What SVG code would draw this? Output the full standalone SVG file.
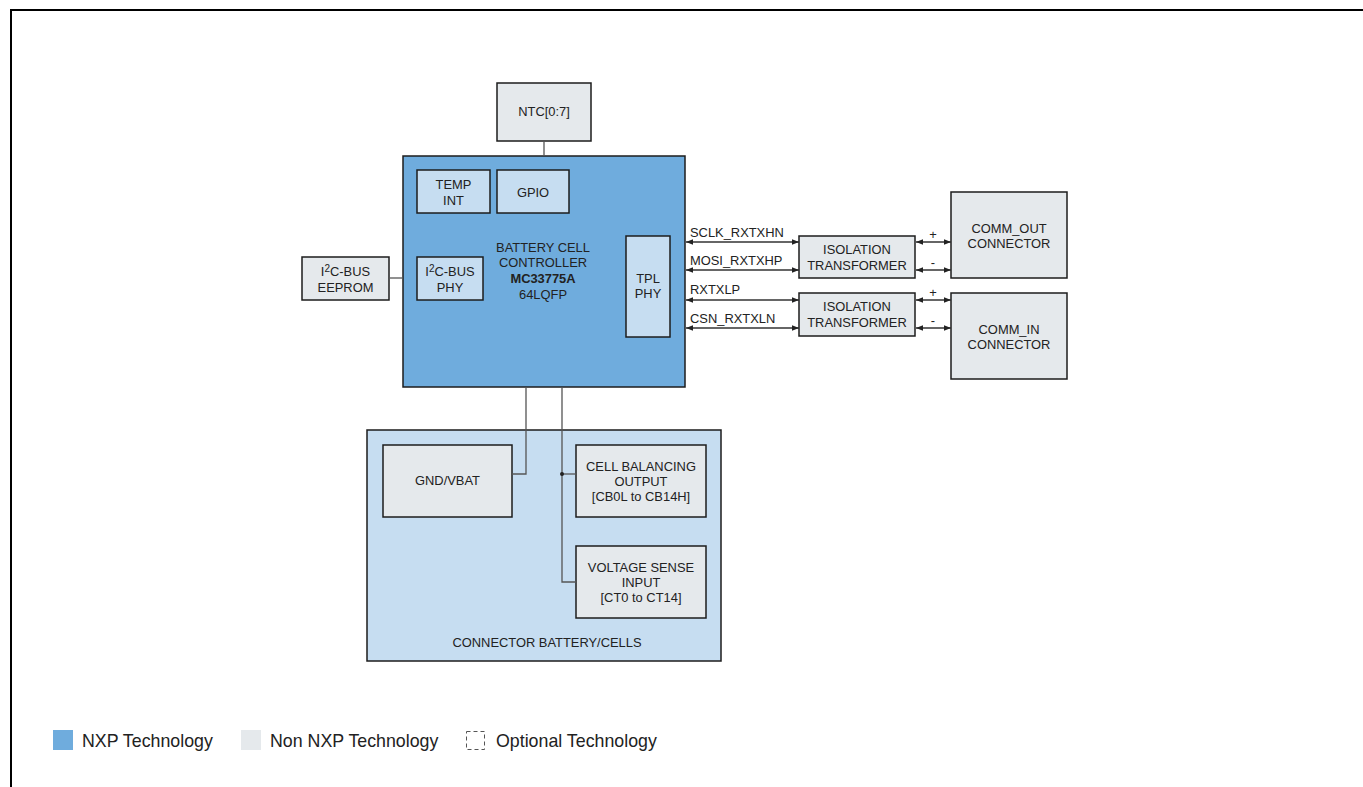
<svg xmlns="http://www.w3.org/2000/svg" width="1363" height="787" viewBox="0 0 1363 787">
<style>
text{font-family:"Liberation Sans",Arial,sans-serif;font-size:12.9px;fill:#222;text-anchor:middle}
.nxp{fill:#6FACDD;stroke:#1c1c1c;stroke-width:1.5}
.inner{fill:#C6DDF1;stroke:#1c1c1c;stroke-width:1.5}
.grey{fill:#E5E9EC;stroke:#1c1c1c;stroke-width:1.5}
.wire{stroke:#555;stroke-width:1.3;fill:none}
.arr{stroke:#333;stroke-width:1.3;fill:none;marker-start:url(#ah);marker-end:url(#ah)}
.lbl{text-anchor:start}
.leg{font-size:17.8px;text-anchor:start;fill:#222}
</style>
<defs>
<marker id="ah" viewBox="0 0 10 10" refX="10" refY="5" markerWidth="7" markerHeight="7" markerUnits="userSpaceOnUse" orient="auto-start-reverse">
<path d="M0,1 L10,5 L0,9 Z" fill="#222"/>
</marker>
</defs>
<rect x="0" y="0" width="1363" height="787" fill="#fff"/>
<path d="M11,787 V10 H1363" fill="none" stroke="#000" stroke-width="2"/>

<g id="ntc"><rect class="grey" x="497" y="83" width="94" height="58"/><text x="544" y="116">NTC[0:7]</text></g>

<g id="bcc">
<rect class="nxp" x="403" y="156" width="282" height="231"/>
<text x="543" y="252">BATTERY CELL</text>
<text x="543" y="267">CONTROLLER</text>
<text x="543" y="283" font-weight="bold" font-size="13.8px">MC33775A</text>
<text x="543" y="299">64LQFP</text>
</g>
<g id="tempint"><rect class="inner" x="417" y="170" width="73" height="43"/><text x="453.5" y="189">TEMP</text><text x="453.5" y="205">INT</text></g>
<g id="gpio"><rect class="inner" x="497" y="170" width="72" height="43"/><text x="533" y="197">GPIO</text></g>
<g id="i2cphy"><rect class="inner" x="417" y="257" width="66" height="43"/><text x="450" y="276">I<tspan dy="-4" font-size="10">2</tspan><tspan dy="4">C-BUS</tspan></text><text x="450" y="292">PHY</text></g>
<g id="tplphy"><rect class="inner" x="626" y="236" width="44" height="101"/><text x="648" y="283">TPL</text><text x="648" y="298">PHY</text></g>
<g id="eeprom"><rect class="grey" x="302" y="257" width="87" height="43"/><text x="345.5" y="276">I<tspan dy="-4" font-size="10">2</tspan><tspan dy="4">C-BUS</tspan></text><text x="345.5" y="292">EEPROM</text></g>

<g id="iso1"><rect class="grey" x="799" y="236" width="116" height="42"/><text x="857" y="254">ISOLATION</text><text x="857" y="270">TRANSFORMER</text></g>
<g id="iso2"><rect class="grey" x="799" y="293" width="116" height="43"/><text x="857" y="311">ISOLATION</text><text x="857" y="327">TRANSFORMER</text></g>
<g id="commout"><rect class="grey" x="951" y="192" width="116" height="86"/><text x="1009" y="233">COMM_OUT</text><text x="1009" y="248">CONNECTOR</text></g>
<g id="commin"><rect class="grey" x="951" y="293" width="116" height="86"/><text x="1009" y="334">COMM_IN</text><text x="1009" y="349">CONNECTOR</text></g>

<g id="connector-battery"><rect class="inner" x="367" y="430" width="354" height="231"/><text x="547" y="647">CONNECTOR BATTERY/CELLS</text></g>
<g id="gndvbat"><rect class="grey" x="383" y="445" width="129" height="72"/><text x="447.5" y="485">GND/VBAT</text></g>
<g id="cellbal"><rect class="grey" x="576" y="445" width="130" height="72"/><text x="641" y="471">CELL BALANCING</text><text x="641" y="486">OUTPUT</text><text x="641" y="501">[CB0L to CB14H]</text></g>
<g id="vsense"><rect class="grey" x="576" y="546" width="130" height="72"/><text x="641" y="572">VOLTAGE SENSE</text><text x="641" y="587">INPUT</text><text x="641" y="602">[CT0 to CT14]</text></g>

<g id="connectors">
<line class="wire" x1="544" y1="141" x2="544" y2="156"/>
<line class="wire" x1="389" y1="278" x2="403" y2="278"/>
<polyline class="wire" points="526,387 526,474 512,474"/>
<polyline class="wire" points="562,387 562,582 576,582"/>
<line class="wire" x1="562" y1="474" x2="576" y2="474"/>
<circle cx="562" cy="474" r="2" fill="#222"/>
<line class="arr" x1="686" y1="242" x2="799" y2="242"/>
<line class="arr" x1="686" y1="270" x2="799" y2="270"/>
<line class="arr" x1="686" y1="300" x2="799" y2="300"/>
<line class="arr" x1="686" y1="328" x2="799" y2="328"/>
<line class="arr" x1="916" y1="242" x2="951" y2="242"/>
<line class="arr" x1="916" y1="270" x2="951" y2="270"/>
<line class="arr" x1="916" y1="300" x2="951" y2="300"/>
<line class="arr" x1="916" y1="328" x2="951" y2="328"/>
<text class="lbl" x="690" y="237">SCLK_RXTXHN</text>
<text class="lbl" x="690" y="265">MOSI_RXTXHP</text>
<text class="lbl" x="690" y="294">RXTXLP</text>
<text class="lbl" x="690" y="323">CSN_RXTXLN</text>
<text x="933" y="239" font-size="11">+</text>
<text x="933" y="267" font-size="11">-</text>
<text x="933" y="297" font-size="11">+</text>
<text x="933" y="325" font-size="11">-</text>
</g>

<g id="legend">
<rect x="53" y="730" width="20" height="20" fill="#6FACDD"/>
<text class="leg" x="82" y="747">NXP Technology</text>
<rect x="241" y="730" width="20" height="20" fill="#E5E9EC"/>
<text class="leg" x="270" y="747">Non NXP Technology</text>
<rect x="466.5" y="731.5" width="18" height="18" fill="none" stroke="#555" stroke-width="1" stroke-dasharray="4,3"/>
<text class="leg" x="496" y="747">Optional Technology</text>
</g>
</svg>
